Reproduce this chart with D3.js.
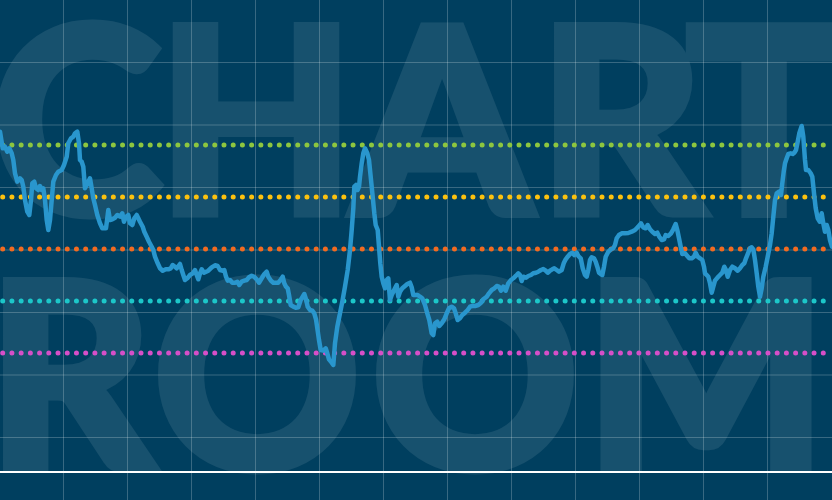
<!DOCTYPE html>
<html>
<head>
<meta charset="utf-8">
<script src="https://cdn.jsdelivr.net/npm/d3@7"></script>
<style>
  html, body { margin: 0; padding: 0; background: #003f5f; overflow: hidden; }
  svg { display: block; }
</style>
</head>
<body>
<svg id="chart" width="832" height="500"></svg>
<script>
// ---- data ----
const weeks = [
0,2.7,5,7.3,9.3,11.7,13.3,15,17.3,20,21.7,23.3,25,27.3,29.3,31,32.3,34.3,36,38.3,40,41.7,43.3,45,46.7,48.3,50,51.7,53.3,56,58.3,61.7,64,66.7,68.3,71,73.3,75,77.3,79,80,81.7,83.3,85,87.7,90,91.7,93.3,95,97.3,100,102.3,106,107.3,108.3,110,112.3,115,117.3,120,122.3,124,126,128.3,130,132.3,134.3,136.7,138.3,140,142.7,144.3,146.7,149,151.7,153.3,155,157.7,160,162.7,165.7,168.3,170.7,172.7,175,176.7,180,181.7,183.3,185,187.3,190,192.7,195,196.7,198.3,200,201.7,204,
208.3,211.7,215,217.7,220,222.3,224.3,226,227.7,230,232.3,235,237.3,239.3,241.7,244.3,246.7,249,251.7,254,256.7,259,261.7,264.3,266.7,268.3,271,273.3,276,278.3,281,282.7,284.3,286,287.7,289,290.7,293.3,295.7,298.3,300.7,302.7,304.3,306,307.7,310,312.3,314.3,316,317.3,319,320.7,323.3,325.7,327.3,329,331.7,333.3,335,337.3,340,342.3,345,347.7,350,351.7,353.3,354.3,356,357.7,359,360,361.7,363.3,365,367.3,369,370.7,372.7,374.3,375.7,377.7,379,380.3,381.7,383.3,385,386.7,388.3,390,391.7,393.3,395,396.7,398.3,400,402.3,405,407.3,410,411.7,413.3,
417.7,420,422.3,425,427.3,429.3,431.7,433.3,435,437.3,439.3,441.7,444.3,446.7,449,451.7,454,455.7,457.7,460,462.3,465,467.7,470,472.3,475,478.3,481,483.3,486.7,489,491.7,494.3,496.7,499,501,503.3,505.7,508.3,511,513.3,516,518.3,520,521.7,523.3,526,528.3,531,533.3,536,538.3,541,543.3,545.7,547.7,550,552.3,554.3,556.7,559,561.7,563.7,565.7,567.7,570,572.3,574.3,576.7,578.3,580.7,582.7,585,586.7,588.3,590,591.7,594,595.7,597.3,599,600.7,602.3,604,605.7,608.3,611,613.3,615,616.7,619,621.7,625,
628.3,631.7,635,638.3,641,643.3,645.7,647.7,650,652.3,655,657.3,659.3,661.7,664,665.7,668.3,671,673.3,675.7,677.3,679,680.7,682.3,685,687.3,689.3,691.7,694,695.7,697.7,700,702.3,704,705,706.7,708.3,710,711.7,713.3,715,717.7,720,722.3,724.3,726,727.7,730,732.3,735,737.7,740,742.3,744.3,746,748.3,750,751.7,753.3,755,756.7,758.3,760,761.7,763.3,765.7,767.7,770,771.7,773.3,775,776.7,779,781,782.3,783.7,785,786.7,788.3,790.7,792.7,794.3,796,797.7,799.3,801.7,803.3,805,806,808.3,810.7,812.3,814,815.7,817.7,819.7,821.7,823.3,825,826.7,828.3,830,832
];
const levels = [
368.3,351.7,353.3,348.3,351.7,346.7,340,326.7,318.3,321.7,320,313.3,300,288.3,285,300,316.7,318.3,311.7,310,314,310,311.7,300,280,270,280,300,318.3,325,328.3,330,335,343.3,356.7,361.7,363.3,366.7,368.3,356.7,340,338.3,333.3,311.7,316.7,321.7,311.7,301.7,295,285,276.7,271.7,271.7,281.7,290,280,280.7,282.3,285,283.3,286.7,278.3,283.3,285,276.7,275,281.7,285,281.7,278.3,273.3,268.3,263.3,258.3,253.3,250,243.3,236.7,231.7,229.3,230.7,230.7,231.7,235,233.3,231.7,236,230,225,220,221.7,225,226.7,230,225,220.7,226.7,230.7,227.3,
229.3,232.7,234.7,234,230,229.3,230,223.3,219.3,220,217.3,217.3,218.3,215,218.3,219.3,220,222.7,224.3,223.3,220.7,217.3,221.7,226,228.3,223.3,219.3,217.3,217.3,217.3,220.7,223.3,216.7,213.3,211.7,205,195,193.3,192.3,192.7,200,203.3,206,200.7,193.3,190,189.3,186.7,180.7,171.7,160,150,149.3,151.7,146.7,140.7,137.3,135,156.7,173.3,186.7,198.3,213.3,230,250,270,291.7,313.3,315,310,313.3,323.3,336.7,346.7,351.7,346.7,340,323.3,303.3,286.7,275,270,253.3,236.7,223.3,216.7,211.7,220,221.7,200,205,208.3,211.7,215,203.3,208.3,211.7,214,216,217.3,212.7,205,
205,203.3,201.7,195,186.7,180,166.7,165,176.7,178.3,174,176.7,180.7,186.7,191.7,193.3,191.7,186.7,180,181.7,185,187.3,190,193.3,194,194,195,197.3,200.7,203.3,206.7,210,211.7,214,213.3,209.3,213.3,209.3,216.7,220,221.7,224.3,226.7,225,219,223.3,222.3,224,225,226.7,227.3,228.3,230,231,229.3,227.3,229.3,230.7,231.7,230,228.3,230,236.7,240.7,243.3,246,247.3,245,247.3,244,241.7,231.7,225,223.3,230,240,242.7,241.7,238.3,233.3,227.3,226,225,233.3,243.3,248.3,250.7,251.7,255,261.7,265,266.7,266.7,
267,268.3,270,273.3,276.7,272.7,271.7,275,270.7,268.3,266,267.3,263.3,260,260.7,265,264,266.7,270.7,276,270,261.7,253.3,246,246.7,244,241.7,241.7,243.3,247.3,243.3,241.7,240,233.3,226.7,225,223.3,216.7,207.3,213.3,219.3,222.7,225,227.3,233.3,230,223.3,230,233.3,231.7,229.3,231.7,235,236.7,241.7,247.3,251.7,252.7,250.7,240,226.7,213.3,203.3,211.7,223.3,233.3,243.3,255,266.7,283.3,300,306.7,308.3,305,316.7,328.3,336.7,341.7,346,346.7,346,347.3,350,358.3,366.7,374,363.3,340,330,330,326.7,323.3,306.7,291.7,281.7,278.3,286.7,276.7,268.3,275,270,260,253.3
];
const thresholdLevels = [355, 303, 251, 199, 147];
const thresholdColors = ["#8dc63f", "#fcc20f", "#f26b21", "#1cc7c9", "#d64fc8"];
const gridWeeks = [64, 128, 192, 256, 320, 384, 448, 512, 576, 640, 704, 768];
const gridLevels = [437.5, 375, 312.5, 250, 187.5, 125, 62.5];
const baseLevel = 28;
const topWord = ["C", "H", "A", "R", "T"];
const bottomWord = ["R", "O", "O", "M"];

// ---- layout ----
const W = 832, H = 500;
const topCenters = [76, 256, 442, 621, 764];
const bottomCenters = [70, 257, 475, 706];
const letterStroke = 11;

const svg = d3.select("#chart");
const x = d3.scaleLinear().domain([0, 832]).range([0, W]);
const y = d3.scaleLinear().domain([0, 500]).range([H, 0]);

svg.append("rect").attr("width", W).attr("height", H).attr("fill", "#003f5f");

// big background letters (one translucent layer, slightly thickened with a stroke)
const letterG = svg.append("g")
  .attr("opacity", 0.09)
  .attr("font-family", "Lato, 'Open Sans', sans-serif")
  .attr("font-weight", 700)
  .attr("font-size", 255)
  .attr("fill", "#ffffff")
  .attr("stroke", "#ffffff")
  .attr("stroke-width", letterStroke)
  .attr("stroke-linejoin", "miter")
  .attr("text-anchor", "middle");
letterG.selectAll("text.top").data(topWord).join("text")
  .attr("class", "top")
  .attr("x", (d, i) => topCenters[i])
  .attr("y", 217 - letterStroke / 2)
  .text(d => d);
letterG.selectAll("text.bottom").data(bottomWord).join("text")
  .attr("class", "bottom")
  .attr("x", (d, i) => bottomCenters[i])
  .attr("y", 472 - letterStroke / 2)
  .text(d => d);

// grid
const grid = svg.append("g").attr("stroke", "#ffffff").attr("stroke-opacity", 0.22).attr("stroke-width", 1);
grid.selectAll("line.v").data(gridWeeks).join("line")
  .attr("class", "v")
  .attr("x1", d => Math.round(x(d)) - 0.5).attr("x2", d => Math.round(x(d)) - 0.5)
  .attr("y1", 0).attr("y2", H);
grid.selectAll("line.h").data(gridLevels).join("line")
  .attr("class", "h")
  .attr("y1", d => y(d)).attr("y2", d => y(d))
  .attr("x1", 0).attr("x2", W);

// baseline
svg.append("line")
  .attr("x1", 0).attr("x2", W)
  .attr("y1", y(baseLevel)).attr("y2", y(baseLevel))
  .attr("stroke", "#ffffff").attr("stroke-width", 2);

// dotted threshold lines
svg.append("g").selectAll("line").data(thresholdLevels).join("line")
  .attr("x1", 2.7).attr("x2", W)
  .attr("y1", d => y(d)).attr("y2", d => y(d))
  .attr("stroke", (d, i) => thresholdColors[i])
  .attr("stroke-width", 5)
  .attr("stroke-linecap", "round")
  .attr("stroke-dasharray", "0 9.22");

// series line
const pts = weeks.map((w, i) => [w, levels[i]]);
const line = d3.line().x(d => x(d[0])).y(d => y(d[1])).curve(d3.curveLinear);
svg.append("path")
  .datum(pts)
  .attr("d", line)
  .attr("fill", "none")
  .attr("stroke", "#2996cd")
  .attr("stroke-width", 4.5)
  .attr("stroke-linejoin", "round")
  .attr("stroke-linecap", "round");
</script>
</body>
</html>
